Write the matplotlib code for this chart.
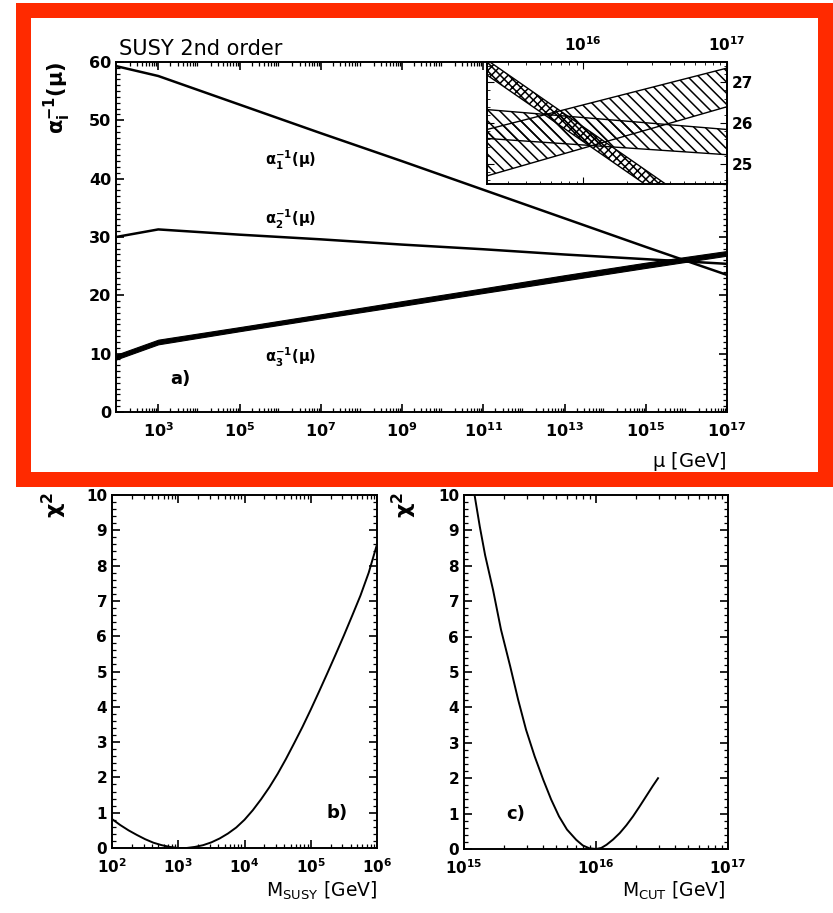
import numpy as np
import matplotlib
matplotlib.use("Agg")
import matplotlib.pyplot as plt
from matplotlib.patches import Rectangle
from matplotlib.ticker import LogLocator, MultipleLocator, NullFormatter

plt.rcParams.update({"font.family": "DejaVu Sans", "font.weight": "bold",
                     "mathtext.default": "regular", "hatch.linewidth": 1.1,
                     "axes.linewidth": 1.4, "xtick.direction": "in",
                     "ytick.direction": "in"})
RED = "#ff2a00"

# ---------- panel a: inverse couplings vs scale (log10 mu in GeV) ----------
mu_log = [1.96, 3, 5, 7, 9, 11, 13, 15, 17]
a1_inv = [59.3, 57.6, 52.7, 47.8, 43.0, 38.1, 33.2, 28.3, 23.5]
a2_inv = [30.0, 31.3, 30.4, 29.6, 28.7, 27.9, 27.0, 26.2, 25.4]
a3_lo = [9.0, 11.6, 13.85, 16.05, 18.2, 20.4, 22.55, 24.7, 26.8]
a3_hi = [9.8, 12.4, 14.55, 16.75, 19.0, 21.2, 23.45, 25.6, 27.6]

# inset: uncertainty bands near the unification point
ins_log = [15.33, 17.0]
b1_lo, b1_hi = [27.18, 23.1], [27.55, 23.45]
b2_lo, b2_hi = [25.62, 25.22], [26.33, 25.84]
b3_lo, b3_hi = [24.70, 26.40], [25.84, 27.35]

# ---------- panel b / c: chi^2 scans ----------
msusy_log = [2.0, 2.125, 2.25, 2.375, 2.5, 2.625, 2.75, 2.875, 3.0, 3.125,
             3.25, 3.375, 3.5, 3.625, 3.75, 3.875, 4.0, 4.125, 4.25, 4.375,
             4.5, 4.625, 4.75, 4.875, 5.0, 5.125, 5.25, 5.375, 5.5, 5.625,
             5.75, 5.875, 6.0]
chi2_susy = [0.82, 0.65, 0.5, 0.37, 0.25, 0.15, 0.08, 0.03, 0.0, 0.0,
             0.03, 0.08, 0.16, 0.27, 0.41, 0.58, 0.8, 1.07, 1.38, 1.72,
             2.1, 2.52, 2.97, 3.43, 3.92, 4.43, 4.95, 5.48, 6.02, 6.58,
             7.15, 7.8, 8.6]
mcut_log = [15.08, 15.12, 15.16, 15.22, 15.28, 15.35, 15.41, 15.47, 15.535,
            15.60, 15.66, 15.72, 15.78, 15.85, 15.9, 15.95, 16.0, 16.04,
            16.08, 16.13, 16.18, 16.23, 16.28, 16.33, 16.38, 16.43, 16.47]
chi2_cut = [10.0, 9.1, 8.3, 7.32, 6.2, 5.16, 4.22, 3.37, 2.62,
            1.96, 1.4, 0.92, 0.55, 0.26, 0.1, 0.02, 0.0, 0.03,
            0.12, 0.27, 0.45, 0.67, 0.92, 1.2, 1.49, 1.78, 2.0]

W, H = 833, 913
fig = plt.figure(figsize=(W / 100, H / 100), dpi=100, facecolor="white")


def box(l, t, r, b):
    return [l / W, 1 - b / H, (r - l) / W, (b - t) / H]


def logticks(ax):
    ax.xaxis.set_minor_locator(LogLocator(base=10, subs=np.arange(2, 10),
                                          numticks=300))
    ax.xaxis.set_minor_formatter(NullFormatter())


# red frame round panel a
fig.patches.append(Rectangle((22.5 / W, 1 - 479.5 / H), 802 / W, 469 / H,
                             transform=fig.transFigure, fill=False,
                             edgecolor=RED, lw=10.8, zorder=10))

ax = fig.add_axes(box(116, 62, 727, 412))
mu = 10 ** np.array(mu_log)
ax.plot(mu, a1_inv, color="black", lw=1.8)
ax.plot(mu, a2_inv, color="black", lw=1.8)
ax.fill_between(mu, a3_lo, a3_hi, color="black", lw=0.8)
ax.set_xscale("log")
ax.set_xlim(10 ** 1.96, 1e17)
ax.set_ylim(0, 60)
ax.set_xticks([10.0 ** k for k in range(3, 18, 2)])
ax.set_xticklabels([f"$10^{{{k}}}$" for k in range(3, 18, 2)])
logticks(ax)
ax.yaxis.set_major_locator(MultipleLocator(10))
ax.yaxis.set_minor_locator(MultipleLocator(1))
ax.tick_params(which="both", top=True, right=True, labelsize=11.5)
ax.tick_params(which="major", length=6, width=1.2)
ax.tick_params(which="minor", length=3, width=0.9)
ax.tick_params(axis="x", pad=7)
ax.text(0.005, 1.008, "SUSY 2nd order", transform=ax.transAxes,
        fontsize=15, fontweight="normal", va="bottom")
for lab, yf in [("$\\alpha_1^{-1}(\\mu)$", 0.72), ("$\\alpha_2^{-1}(\\mu)$", 0.55),
                ("$\\alpha_3^{-1}(\\mu)$", 0.157)]:
    ax.text(0.285, yf, lab, transform=ax.transAxes, fontsize=10.5,
            ha="center", va="center")
ax.text(0.105, 0.093, "a)", transform=ax.transAxes, fontsize=13,
        ha="center", va="center")
fig.text(57 / W, 1 - 98 / H, "$\\alpha_i^{-1}(\\mu)$", rotation=90,
         fontsize=15, ha="center", va="center")
fig.text(727 / W, 1 - 461 / H, "$\\mu$ [GeV]", fontsize=14, ha="right",
         va="center", fontweight="normal")

# inset
ins = fig.add_axes(box(487, 62, 727, 184), zorder=5)
im = 10 ** np.array(ins_log)
ins.fill_between(im, b1_lo, b1_hi, facecolor="white", edgecolor="black",
                 hatch="xxxx", lw=1.0)
ins.fill_between(im, b3_lo, b3_hi, facecolor="none", edgecolor="black",
                 hatch="\\\\\\", lw=1.0)
ins.fill_between(im, b2_lo, b2_hi, facecolor="none", edgecolor="black",
                 hatch="\\\\\\", lw=1.0)
ins.set_xscale("log")
ins.set_xlim(10 ** 15.33, 1e17)
ins.set_ylim(24.5, 27.5)
ins.set_xticks([1e16, 1e17])
ins.set_xticklabels(["$10^{16}$", "$10^{17}$"])
logticks(ins)
ins.yaxis.set_major_locator(MultipleLocator(1))
ins.yaxis.set_minor_locator(MultipleLocator(0.2))
ins.tick_params(which="both", top=True, bottom=True, left=True, right=True,
                labeltop=True, labelbottom=False, labelright=True,
                labelleft=False, labelsize=11)
ins.tick_params(which="major", length=5)
ins.tick_params(which="minor", length=2.5)
ins.tick_params(axis="x", pad=6)

# panel b
axb = fig.add_axes(box(112, 495, 377, 848))
axb.plot(10 ** np.array(msusy_log), chi2_susy, color="black", lw=1.4)
axb.set_xscale("log")
axb.set_xlim(1e2, 1e6)
axb.set_xticks([10.0 ** k for k in range(2, 7)])
axb.set_xticklabels([f"$10^{{{k}}}$" for k in range(2, 7)])
logticks(axb)
axb.text(0.85, 0.1, "b)", transform=axb.transAxes, fontsize=13,
         ha="center", va="center")
fig.text(377 / W, 1 - 891 / H, "M$_{SUSY}$ [GeV]", fontsize=13.5,
         ha="right", va="center", fontweight="normal")
fig.text(54 / W, 1 - 505 / H, "$\\chi^2$", rotation=90, fontsize=16,
         ha="center", va="center")

# panel c
axc = fig.add_axes(box(464, 495, 728, 849))
axc.plot(10 ** np.array(mcut_log), chi2_cut, color="black", lw=1.4)
axc.set_xscale("log")
axc.set_xlim(1e15, 1e17)
axc.set_xticks([1e15, 1e16, 1e17])
axc.set_xticklabels(["$10^{15}$", "$10^{16}$", "$10^{17}$"])
logticks(axc)
axc.text(0.195, 0.1, "c)", transform=axc.transAxes, fontsize=13,
         ha="center", va="center")
fig.text(725 / W, 1 - 891 / H, "M$_{CUT}$ [GeV]", fontsize=13.5,
         ha="right", va="center", fontweight="normal")
fig.text(404 / W, 1 - 505 / H, "$\\chi^2$", rotation=90, fontsize=16,
         ha="center", va="center")

for a in (axb, axc):
    a.set_ylim(0, 10)
    a.yaxis.set_major_locator(MultipleLocator(1))
    a.yaxis.set_minor_locator(MultipleLocator(0.2))
    a.tick_params(which="both", top=True, right=True, labelsize=11)
    a.tick_params(which="major", length=6, width=1.2)
    a.tick_params(which="minor", length=3, width=0.9)
    a.tick_params(axis="x", pad=7)

fig.savefig("out.png", dpi=100, facecolor="white")
